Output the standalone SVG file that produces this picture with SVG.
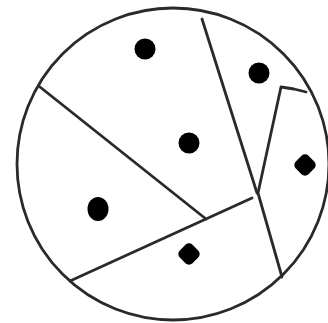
<svg xmlns="http://www.w3.org/2000/svg" width="328" height="323" viewBox="0 0 328 323">
<style>
.ln{fill:none;stroke:#2a2a2a;stroke-width:2.8;stroke-linecap:round;stroke-linejoin:round}
.dot{fill:#000}
</style>
<rect width="328" height="323" fill="#fff"/>
<g id="circle"><circle class="ln" cx="173" cy="164" r="156"/></g>
<g id="lines">
<line class="ln" x1="40" y1="87" x2="206" y2="219"/>
<line class="ln" x1="70" y1="281" x2="252" y2="198"/>
<line class="ln" x1="202" y1="19" x2="257" y2="193"/>
<polyline class="ln" points="306,92 294,89 281,87 258,193 282,277"/>
</g>
<g id="dots">
<circle class="dot" cx="145" cy="49" r="10.5"/>
<circle class="dot" cx="259" cy="73" r="10.5"/>
<circle class="dot" cx="189" cy="143" r="10.5"/>
<rect class="dot" x="296" y="156" width="18" height="18" rx="5" transform="rotate(45 305 165)"/>
<ellipse class="dot" cx="98" cy="209" rx="10.5" ry="12"/>
<rect class="dot" x="180" y="245" width="18" height="18" rx="5" transform="rotate(45 189 254)"/>
</g>
</svg>
